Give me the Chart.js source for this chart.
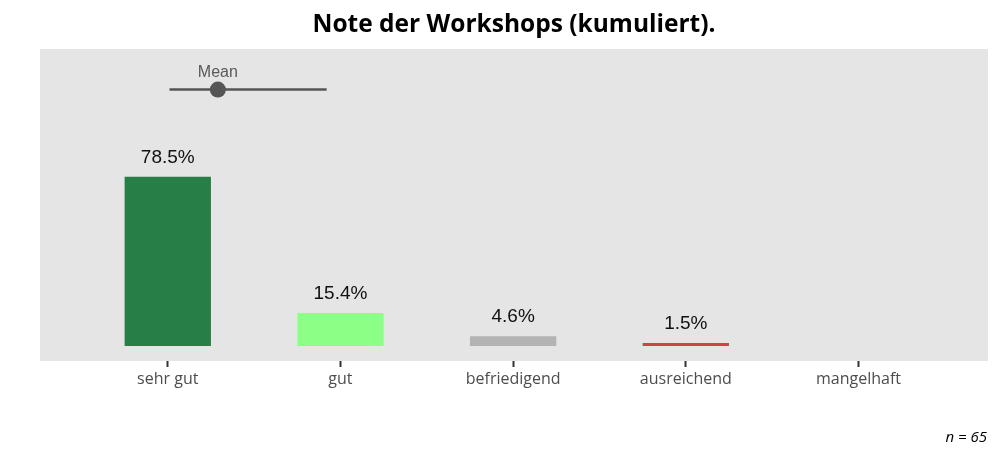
<!DOCTYPE html>
<html>
<head>
<meta charset="utf-8">
<script src="https://cdn.jsdelivr.net/npm/chart.js@4"></script>
<style>
  html, body { margin: 0; padding: 0; background: #ffffff; }
  #wrap { width: 1000px; height: 458px; }
</style>
</head>
<body>
<div id="wrap"><canvas id="notenChart"></canvas></div>
<script>
// grades and their shares in percent
const categories = ['sehr gut', 'gut', 'befriedigend', 'ausreichend', 'mangelhaft'];
const shares = [78.5, 15.4, 4.6, 1.5, 0];
const barColors = ['#277f47', '#8cff86', '#b3b3b3', '#cc4446', '#8b0000'];

// mean grade (1 = sehr gut ... 5 = mangelhaft) with its range
const meanGrade = 1.29;
const meanRange = [1.01, 1.92];
const meanRow = 119; // height on the percent axis where the mean marker sits

const titleText = 'Note der Workshops (kumuliert).';
const nText = 'n = 65';

// grey panel behind the plot area
const panelBg = {
    id: 'panelBg',
    beforeDraw(chart) {
        const {ctx, chartArea: a} = chart;
        ctx.save();
        ctx.fillStyle = '#e5e5e5';
        ctx.fillRect(a.left, a.top, a.right - a.left, a.bottom - a.top);
        ctx.restore();
    }
};

// percent labels above the bars, "Mean" label, title and n
const textLayer = {
    id: 'textLayer',
    afterDatasetsDraw(chart) {
        const ctx = chart.ctx;
        const bars = chart.getDatasetMeta(0).data;
        ctx.save();
        ctx.fillStyle = '#111111';
        ctx.font = '19px "Liberation Sans", Arial, sans-serif';
        ctx.textAlign = 'center';
        ctx.textBaseline = 'alphabetic';
        bars.forEach((bar, i) => {
            if (shares[i] > 0) {
                ctx.fillText(shares[i].toFixed(1) + '%', bar.x, bar.y - 14);
            }
        });

        const dot = chart.getDatasetMeta(2).data[0];
        ctx.fillStyle = '#595959';
        ctx.font = '16px "Liberation Sans", Arial, sans-serif';
        ctx.fillText('Mean', dot.x, dot.y - 13);

        const a = chart.chartArea;
        ctx.fillStyle = '#000000';
        ctx.font = 'bold 24.5px "Open Sans", sans-serif';
        ctx.fillText(titleText, (a.left + a.right) / 2, 32);

        ctx.textAlign = 'right';
        ctx.font = 'italic 15px "Open Sans", sans-serif';
        ctx.fillText(nText, a.right - 1, 442);
        ctx.restore();
    }
};

new Chart(document.getElementById('notenChart'), {
    type: 'bar',
    data: {
        datasets: [
            {
                type: 'bar',
                data: shares.map((v, i) => ({x: i, y: v})),
                backgroundColor: barColors,
                borderWidth: 0,
                barPercentage: 0.5,
                categoryPercentage: 1.0,
                order: 3
            },
            {
                type: 'line',
                data: meanRange.map(v => ({x: v - 1, y: meanRow})),
                borderColor: '#555555',
                borderWidth: 2.5,
                pointRadius: 0,
                order: 2
            },
            {
                type: 'scatter',
                data: [{x: meanGrade - 1, y: meanRow}],
                backgroundColor: '#555555',
                borderWidth: 0,
                pointRadius: 8,
                order: 1
            }
        ]
    },
    options: {
        responsive: true,
        maintainAspectRatio: false,
        animation: false,
        layout: {padding: {top: 49, left: 40, right: 12, bottom: 0}},
        plugins: {
            legend: {display: false},
            title: {display: false},
            tooltip: {enabled: false}
        },
        scales: {
            x: {
                type: 'linear',
                offset: false,
                min: -0.74,
                max: 4.75,
                afterBuildTicks: axis => { axis.ticks = categories.map((_, i) => ({value: i})); },
                afterFit: axis => { axis.height = 97; },
                ticks: {
                    callback: v => categories[v],
                    color: '#4d4d4d',
                    font: {family: '"Open Sans", sans-serif', size: 16},
                    padding: 3,
                    maxRotation: 0,
                    autoSkip: false
                },
                grid: {
                    offset: false,
                    drawOnChartArea: false,
                    drawTicks: true,
                    tickLength: 6,
                    tickWidth: 2,
                    tickColor: '#333333'
                },
                border: {display: false}
            },
            y: {
                display: false,
                min: -6.9,
                max: 137.8
            }
        }
    },
    plugins: [panelBg, textLayer]
});
</script>
</body>
</html>
